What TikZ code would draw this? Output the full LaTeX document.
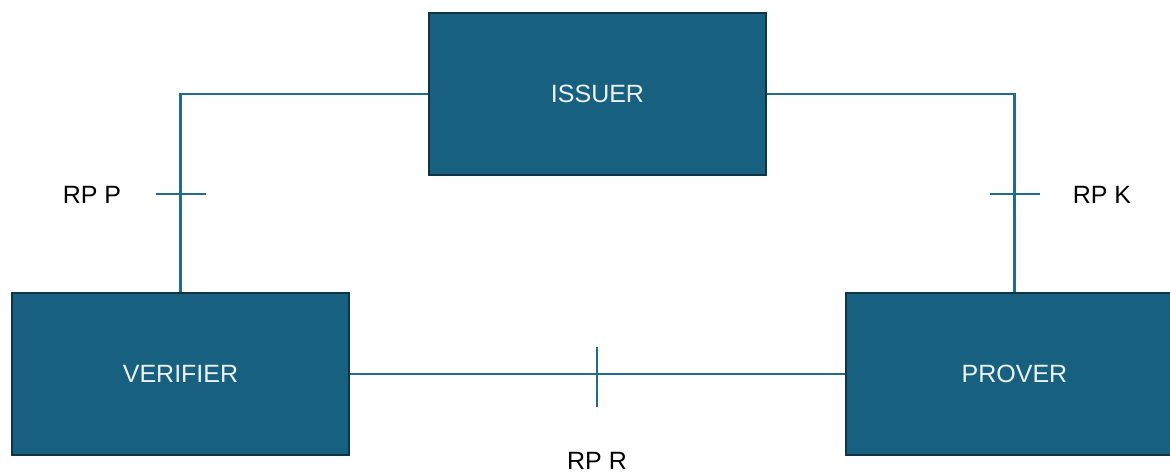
\documentclass[tikz,border=0pt]{standalone}
\usepackage{fontspec}
\setmainfont{Liberation Sans}
\usepackage{tikz}
\usetikzlibrary{positioning}
\definecolor{boxteal}{HTML}{17607F}
\definecolor{boxedge}{HTML}{0E3447}
\definecolor{wireteal}{HTML}{216B8D}

\begin{document}
\begin{tikzpicture}[x=1pt,y=1pt,
    party/.style={draw=boxedge,line width=1.2pt,fill=boxteal,text=white!92!boxteal,
        minimum width=337pt,minimum height=162pt,inner sep=0pt,font=\fontsize{25}{30}\selectfont},
    wire/.style={draw=wireteal,line width=2.3pt},
    rplabel/.style={text=black,font=\fontsize{25}{30}\selectfont,inner sep=0pt}]
    \useasboundingbox (0,0) rectangle (1170,475);
    \clip (0,0) rectangle (1170,475);
    \node[party] (issuer) at (597.5,381) {ISSUER};
    \node[party] (verifier) at (180.5,101) {VERIFIER};
    \node[party] (prover) at (1014.5,101) {PROVER};
    \draw[wire] (issuer.west) -| (verifier.north);
    \draw[wire] (issuer.east) -| (prover.north);
    \draw[wire] (verifier.east) -- (prover.west);
    \coordinate (tickp) at (181,281);
    \coordinate (tickk) at (1015,281);
    \coordinate (tickr) at (597,101);
    \draw[wire] (tickp) +(-25,0) -- +(25,0);
    \draw[wire] (tickk) +(-25,0) -- +(25,0);
    \draw[wire] (tickr) +(0,-33) -- +(0,27);
    \node[rplabel] (rpp) at (92,280) {RP P};
    \node[rplabel] (rpk) at (1102,280) {RP K};
    \node[rplabel] (rpr) at (597,14) {RP R};
\end{tikzpicture}
\end{document}
